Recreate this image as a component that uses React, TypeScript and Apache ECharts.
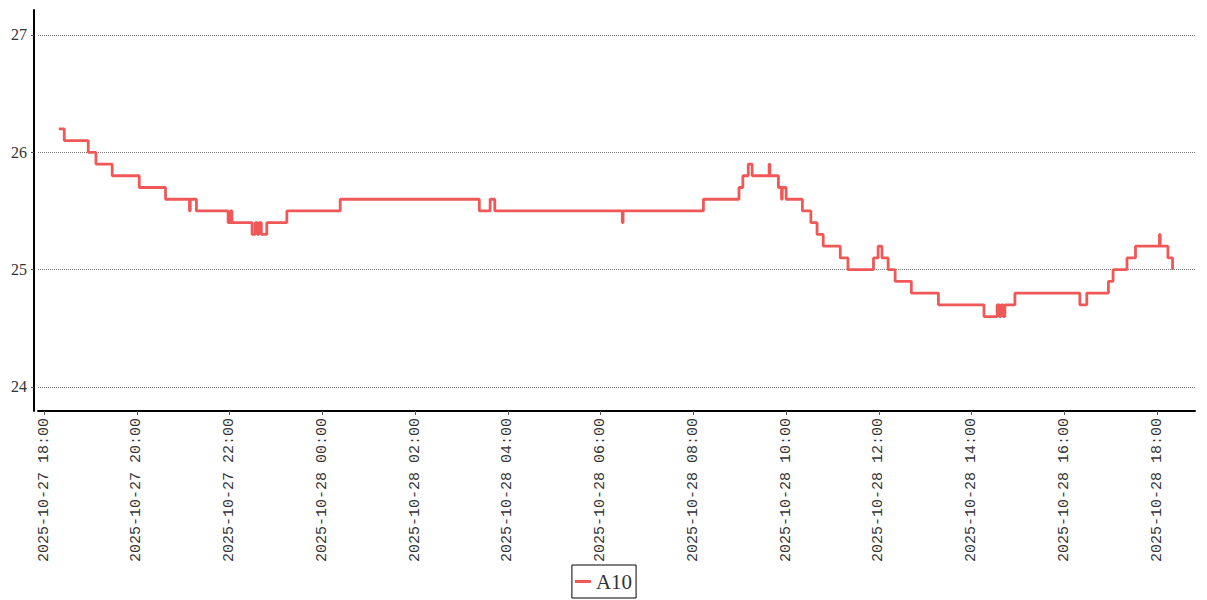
import React, { useEffect, useRef } from "react";
import * as echarts from "echarts";

const seriesName = "A10";

const times: string[] = [
  "2025-10-27 18:19", "2025-10-27 18:26", "2025-10-27 18:57", "2025-10-27 19:07",
  "2025-10-27 19:28", "2025-10-27 20:03", "2025-10-27 20:37", "2025-10-27 21:08",
  "2025-10-27 21:09", "2025-10-27 21:17", "2025-10-27 21:58", "2025-10-27 22:01",
  "2025-10-27 22:03", "2025-10-27 22:29", "2025-10-27 22:33", "2025-10-27 22:36",
  "2025-10-27 22:38", "2025-10-27 22:41", "2025-10-27 22:48", "2025-10-27 23:14",
  "2025-10-28 00:23", "2025-10-28 03:23", "2025-10-28 03:37", "2025-10-28 03:43",
  "2025-10-28 06:28", "2025-10-28 06:29", "2025-10-28 08:13", "2025-10-28 08:59",
  "2025-10-28 09:04", "2025-10-28 09:11", "2025-10-28 09:16", "2025-10-28 09:38",
  "2025-10-28 09:39", "2025-10-28 09:50", "2025-10-28 09:54", "2025-10-28 09:55",
  "2025-10-28 10:00", "2025-10-28 10:21", "2025-10-28 10:32", "2025-10-28 10:40",
  "2025-10-28 10:48", "2025-10-28 11:10", "2025-10-28 11:20", "2025-10-28 11:53",
  "2025-10-28 11:59", "2025-10-28 12:04", "2025-10-28 12:12", "2025-10-28 12:21",
  "2025-10-28 12:42", "2025-10-28 13:17", "2025-10-28 14:16", "2025-10-28 14:33",
  "2025-10-28 14:36", "2025-10-28 14:38", "2025-10-28 14:41", "2025-10-28 14:43",
  "2025-10-28 14:56", "2025-10-28 16:20", "2025-10-28 16:29", "2025-10-28 16:57",
  "2025-10-28 17:03", "2025-10-28 17:21", "2025-10-28 17:32", "2025-10-28 18:03",
  "2025-10-28 18:04", "2025-10-28 18:14", "2025-10-28 18:20",
];

const values: number[] = [
  26.2, 26.1, 26.0, 25.9,
  25.8, 25.7, 25.6, 25.5,
  25.6, 25.5, 25.4, 25.5,
  25.4, 25.3, 25.4, 25.3,
  25.4, 25.3, 25.4, 25.5,
  25.6, 25.5, 25.6, 25.5,
  25.4, 25.5, 25.6, 25.7,
  25.8, 25.9, 25.8, 25.9,
  25.8, 25.7, 25.6, 25.7,
  25.6, 25.5, 25.4, 25.3,
  25.2, 25.1, 25.0, 25.1,
  25.2, 25.1, 25.0, 24.9,
  24.8, 24.7, 24.6, 24.7,
  24.6, 24.7, 24.6, 24.7,
  24.8, 24.7, 24.8, 24.9,
  25.0, 25.1, 25.2, 25.3,
  25.2, 25.1, 25.0,
];

const xTickLabels: string[] = [
  "2025-10-27 18:00", "2025-10-27 20:00", "2025-10-27 22:00", "2025-10-28 00:00",
  "2025-10-28 02:00", "2025-10-28 04:00", "2025-10-28 06:00", "2025-10-28 08:00",
  "2025-10-28 10:00", "2025-10-28 12:00", "2025-10-28 14:00", "2025-10-28 16:00",
  "2025-10-28 18:00",
];

const yTicks: number[] = [24, 25, 26, 27];

const xMin = "2025-10-27 17:52";
const xMax = "2025-10-28 18:49";
const yMin = 23.795;
const yMax = 27.213;

function parseTime(s: string): number {
  const [d, t] = s.split(" ");
  const [y, m, day] = d.split("-").map(Number);
  const [h, mi] = t.split(":").map(Number);
  return new Date(y, m - 1, day, h, mi).getTime();
}

function pad(n: number): string {
  return n < 10 ? "0" + n : "" + n;
}

function formatTime(v: number): string {
  const d = new Date(v);
  return (
    d.getFullYear() + "-" + pad(d.getMonth() + 1) + "-" + pad(d.getDate()) +
    " " + pad(d.getHours()) + ":" + pad(d.getMinutes())
  );
}

export default function App() {
  const ref = useRef<HTMLDivElement>(null);

  useEffect(() => {
    document.body.style.margin = "0";
    if (!ref.current) return;
    const chart = echarts.init(ref.current, null, { renderer: "svg" });
    const data = times.map((t, i) => [parseTime(t), values[i]]);
    const xTicks = xTickLabels.map(parseTime);

    chart.setOption({
      animation: false,
      backgroundColor: "#fff",
      grid: {
        left: 38,
        right: 12,
        top: 10,
        bottom: 189,
        containLabel: false,
        outerBoundsMode: "none",
      },
      legend: {
        show: true,
        bottom: 2,
        left: "center",
        data: [{ name: seriesName, icon: "rect" }],
        itemWidth: 16,
        itemHeight: 3,
        borderColor: "#000",
        borderWidth: 1,
        borderRadius: 0,
        padding: [6, 4, 6, 3],
        textStyle: {
          fontFamily: "Liberation Serif",
          fontSize: 21,
          color: "#333",
        },
      },
      xAxis: {
        type: "value",
        min: parseTime(xMin),
        max: parseTime(xMax),
        axisLine: { show: true, onZero: false, lineStyle: { color: "#000", width: 2 } },
        axisTick: {
          show: true,
          length: 4,
          customValues: xTicks,
          lineStyle: { color: "#555", width: 1 },
        },
        axisLabel: {
          customValues: xTicks,
          rotate: 90,
          margin: 7,
          fontFamily: "Liberation Mono",
          fontSize: 15,
          color: "#333",
          formatter: (v: number) => formatTime(v),
          hideOverlap: false,
        },
        splitLine: { show: false },
      },
      yAxis: {
        type: "value",
        min: yMin,
        max: yMax,
        offset: 4,
        axisLine: { show: true, onZero: false, lineStyle: { color: "#000", width: 2 } },
        axisTick: {
          show: true,
          length: 3,
          customValues: yTicks,
          lineStyle: { color: "#555", width: 1 },
        },
        axisLabel: {
          customValues: yTicks,
          margin: 7,
          fontFamily: "Liberation Serif",
          fontSize: 16,
          color: "#333",
          formatter: (v: number) => String(Math.round(v)),
        },
        splitLine: {
          show: true,
          lineStyle: { color: "#777", width: 1, type: "dotted" },
        },
      },
      series: [
        {
          name: seriesName,
          type: "line",
          step: "end",
          data,
          showSymbol: false,
          symbol: "none",
          color: "#f05858",
          lineStyle: { color: "#f05858", width: 2.8 },
        },
      ],
    });

    return () => chart.dispose();
  }, []);

  return <div ref={ref} style={{ width: 1207, height: 600 }} />;
}
